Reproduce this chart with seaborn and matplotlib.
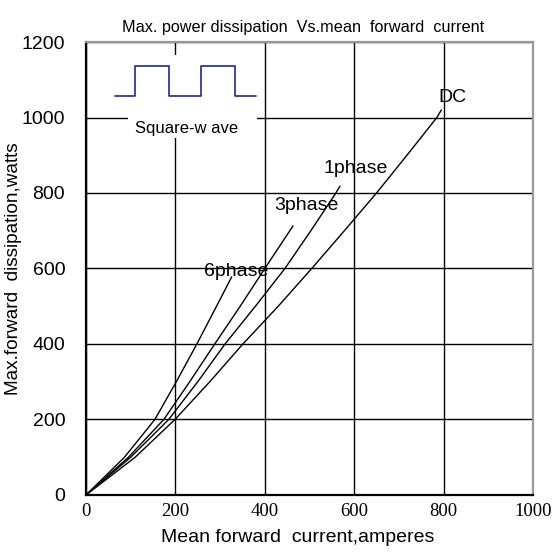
import pandas as pd
import matplotlib
matplotlib.use("Agg")
import matplotlib.pyplot as plt
import seaborn as sns
from matplotlib.patches import Rectangle

# Curve data (amperes, watts)
dc_current = [0, 110, 199, 277, 351, 430, 505, 578, 650, 718, 785, 795]
dc_power = [0, 100, 200, 300, 400, 500, 600, 700, 800, 900, 1000, 1020]

ph1_current = [0, 100, 185, 250, 311, 379, 445, 503, 559, 568]
ph1_power = [0, 100, 200, 300, 400, 500, 600, 700, 800, 818]

ph3_current = [0, 95, 174, 232, 288, 345, 400, 456, 463]
ph3_power = [0, 100, 200, 300, 400, 500, 600, 700, 713]

ph6_current = [0, 86, 154, 202, 248, 292, 326]
ph6_power = [0, 100, 200, 300, 400, 500, 578]

curve_names = ["DC", "1phase", "3phase", "6phase"]
label_pos = [(820, 1052), (604, 864), (493, 766), (337, 593)]

# square-wave inset
wave_x = [65, 110, 110, 185, 185, 257, 257, 333, 333, 380]
wave_y = [1057, 1057, 1136, 1136, 1057, 1057, 1136, 1136, 1057, 1057]
inset_box = [94, 946, 288, 220]  # x, y, width, height

x_ticks = [0, 200, 400, 600, 800, 1000]
y_ticks = [0, 200, 400, 600, 800, 1000, 1200]

frames = []
for name, xs, ys in zip(curve_names,
                        [dc_current, ph1_current, ph3_current, ph6_current],
                        [dc_power, ph1_power, ph3_power, ph6_power]):
    frames.append(pd.DataFrame({"current": xs, "power": ys, "curve": name}))
df = pd.concat(frames, ignore_index=True)

sns.set_theme(style="white")
plt.rcParams["font.family"] = ["Liberation Sans", "DejaVu Sans"]
plt.rcParams["text.color"] = "black"
plt.rcParams["axes.labelcolor"] = "black"
plt.rcParams["xtick.color"] = "black"
plt.rcParams["ytick.color"] = "black"

fig = plt.figure(figsize=(5.56, 5.52), dpi=100)
ax = fig.add_axes([0.1547, 0.1033, 0.8039, 0.8206])

sns.lineplot(data=df, x="current", y="power", hue="curve", units="curve",
             estimator=None, sort=False, palette=["black"] * 4, legend=False,
             linewidth=1.0, ax=ax, zorder=3)

ax.set_xlim(0, 1000)
ax.set_ylim(0, 1200)
ax.set_xticks(x_ticks)
ax.set_yticks(y_ticks)
ax.grid(True, color="black", linewidth=1.0)
ax.set_axisbelow(True)

for s in ["left", "bottom"]:
    ax.spines[s].set_color("black")
    ax.spines[s].set_linewidth(1.6)
for s in ["top", "right"]:
    ax.spines[s].set_color("#999999")
    ax.spines[s].set_linewidth(1.6)

ax.tick_params(axis="y", which="major", length=0, labelsize=14, pad=15)
ax.tick_params(axis="x", which="major", length=0, pad=6)
for lab in ax.get_xticklabels():
    lab.set_fontfamily("Liberation Serif")
    lab.set_fontsize(13.5)

ax.set_xlabel("Mean forward  current,amperes", fontsize=14)
ax.xaxis.set_label_coords(0.474, -0.075)
ax.set_ylabel("Max.forward  dissipation,watts", fontsize=13.7, labelpad=0)
ax.set_title("Max. power dissipation  Vs.mean  forward  current",
             fontsize=11.7, pad=7, x=0.485)

for name, (tx, ty) in zip(curve_names, label_pos):
    ax.text(tx, ty, name, fontsize=14, ha="center", va="center", zorder=4)

bx, by, bw, bh = inset_box
ax.add_patch(Rectangle((bx, by), bw, bh, facecolor="white", edgecolor="none", zorder=2))
ax.plot(wave_x, wave_y, color="#1c2896", linewidth=1.2, zorder=3)
ax.text(226, 972, "Square-w ave", fontsize=12, ha="center", va="center", zorder=4)

fig.savefig("out.png", dpi=100)
